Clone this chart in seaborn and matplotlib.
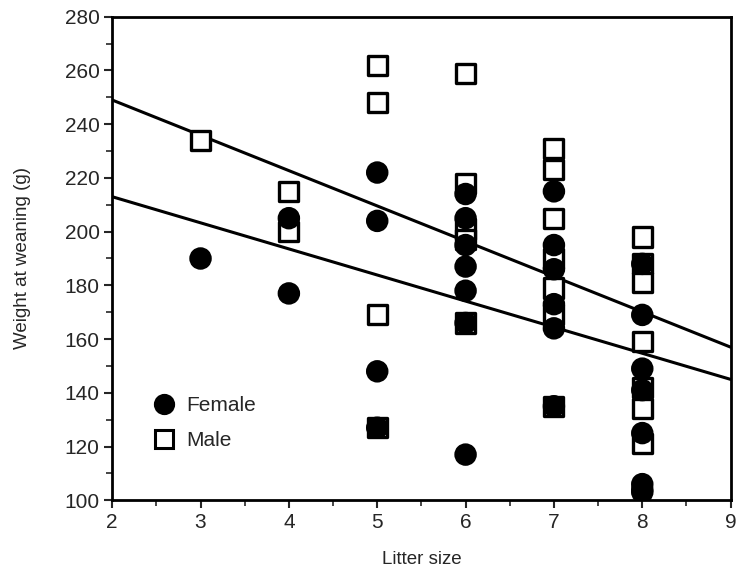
import matplotlib
matplotlib.use("Agg")
import matplotlib.pyplot as plt
from matplotlib.ticker import MultipleLocator
import numpy as np
import pandas as pd
import seaborn as sns

# litter size / weight at weaning (g)
male_litter = [3, 4, 4, 5, 5, 5, 5,
               6, 6, 6, 6, 6,
               7, 7, 7, 7, 7, 7, 7,
               8, 8, 8, 8, 8, 8, 8]
male_weight = [234, 215, 200, 262, 248, 169, 127,
               259, 218, 201, 197, 166,
               231, 223, 205, 190, 179, 169, 135,
               198, 188, 181, 159, 142, 134, 121]

female_litter = [3, 4, 4, 5, 5, 5, 5,
                 6, 6, 6, 6, 6, 6, 6,
                 7, 7, 7, 7, 7, 7,
                 8, 8, 8, 8, 8, 8, 8, 8]
female_weight = [190, 205, 177, 222, 204, 148, 127,
                 214, 205, 195, 187, 178, 166, 117,
                 215, 195, 186, 173, 164, 135,
                 188, 169, 149, 141, 125, 106, 103, 104]

# fitted lines (weight at litter size 2 and 9)
line_x = [2, 9]
male_line = [249, 157]
female_line = [213, 145]

df = pd.concat([
    pd.DataFrame({"litter": male_litter, "weight": male_weight, "sex": "Male"}),
    pd.DataFrame({"litter": female_litter, "weight": female_weight, "sex": "Female"}),
])

sns.set_style("ticks")
plt.rcParams["font.family"] = ["Liberation Sans", "DejaVu Sans"]

fig = plt.figure(figsize=(7.38, 5.77), dpi=100)
ax = fig.add_axes([0.152, 0.133, 0.838, 0.838])

ax.plot(line_x, male_line, color="black", lw=2.2, zorder=1)
ax.plot(line_x, female_line, color="black", lw=2.2, zorder=1)

sns.scatterplot(
    data=df, x="litter", y="weight",
    hue="sex", style="sex",
    hue_order=["Female", "Male"],
    palette={"Female": "black", "Male": "white"},
    markers={"Female": "o", "Male": "s"},
    s=190, edgecolor="black", linewidth=2.4,
    ax=ax, zorder=3,
)

ax.set_xlim(2, 9)
ax.set_ylim(100, 280)
ax.xaxis.set_major_locator(MultipleLocator(1))
ax.xaxis.set_minor_locator(MultipleLocator(0.5))
ax.yaxis.set_major_locator(MultipleLocator(20))
ax.yaxis.set_minor_locator(MultipleLocator(10))
ax.tick_params(which="major", length=6, width=1.5, labelsize=15, direction="out", pad=3)
ax.tick_params(which="minor", length=4, width=1.2, direction="out")
for sp in ax.spines.values():
    sp.set_linewidth(2)
    sp.set_color("black")

ax.set_xlabel("Litter size", fontsize=13.5, labelpad=14)
ax.set_ylabel("Weight at weaning (g)", fontsize=13.5, labelpad=24)

leg = ax.legend(loc="lower left", bbox_to_anchor=(0.02, 0.065), frameon=False,
                fontsize=15, handletextpad=0.05, labelspacing=0.75, markerscale=0.95)
for h in leg.legend_handles:
    h.set_markeredgecolor("black")
    h.set_markeredgewidth(2.2)

fig.savefig("out.png", dpi=100)
